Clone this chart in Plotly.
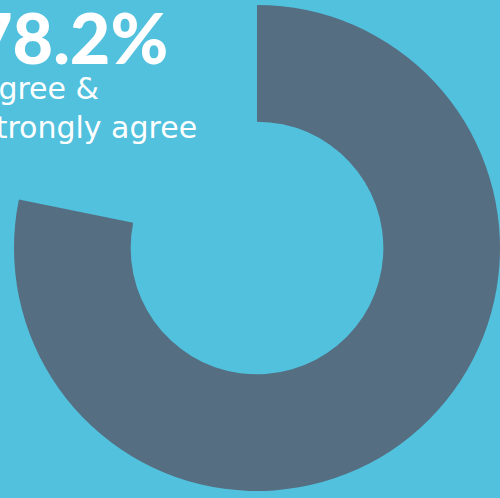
import plotly.graph_objects as go

labels = ["Agree & strongly agree", "Other"]
values = [78.2, 21.8]
headline = "78.2%"
caption_lines = ["agree &", "strongly agree"]

BG = "#51C1DE"
SLATE = "#556E81"

fig = go.Figure(go.Pie(
    labels=labels,
    values=values,
    hole=0.52,
    sort=False,
    direction="clockwise",
    rotation=0,
    textinfo="none",
    hoverinfo="label+percent",
    marker=dict(colors=[SLATE, "rgba(0,0,0,0)"], line=dict(width=0)),
    domain=dict(x=[14/500, 1.0], y=[6/498, 494/498]),
    showlegend=False,
))

fig.add_annotation(
    text=headline, xref="paper", yref="paper",
    x=170/500, y=1 + 7/498, xanchor="right", yanchor="top",
    showarrow=False, font=dict(family="Lato", size=70, color="white", weight=900),
)
fig.add_annotation(
    text="<br>".join(caption_lines), xref="paper", yref="paper",
    x=199/500, y=1 - 69/498, xanchor="right", yanchor="top", align="left",
    showarrow=False, font=dict(family="DejaVu Sans", size=30, color="white"),
)

fig.update_layout(
    width=500, height=498,
    margin=dict(l=0, r=0, t=0, b=0),
    paper_bgcolor=BG, plot_bgcolor=BG,
)

fig.write_html("out.html")
